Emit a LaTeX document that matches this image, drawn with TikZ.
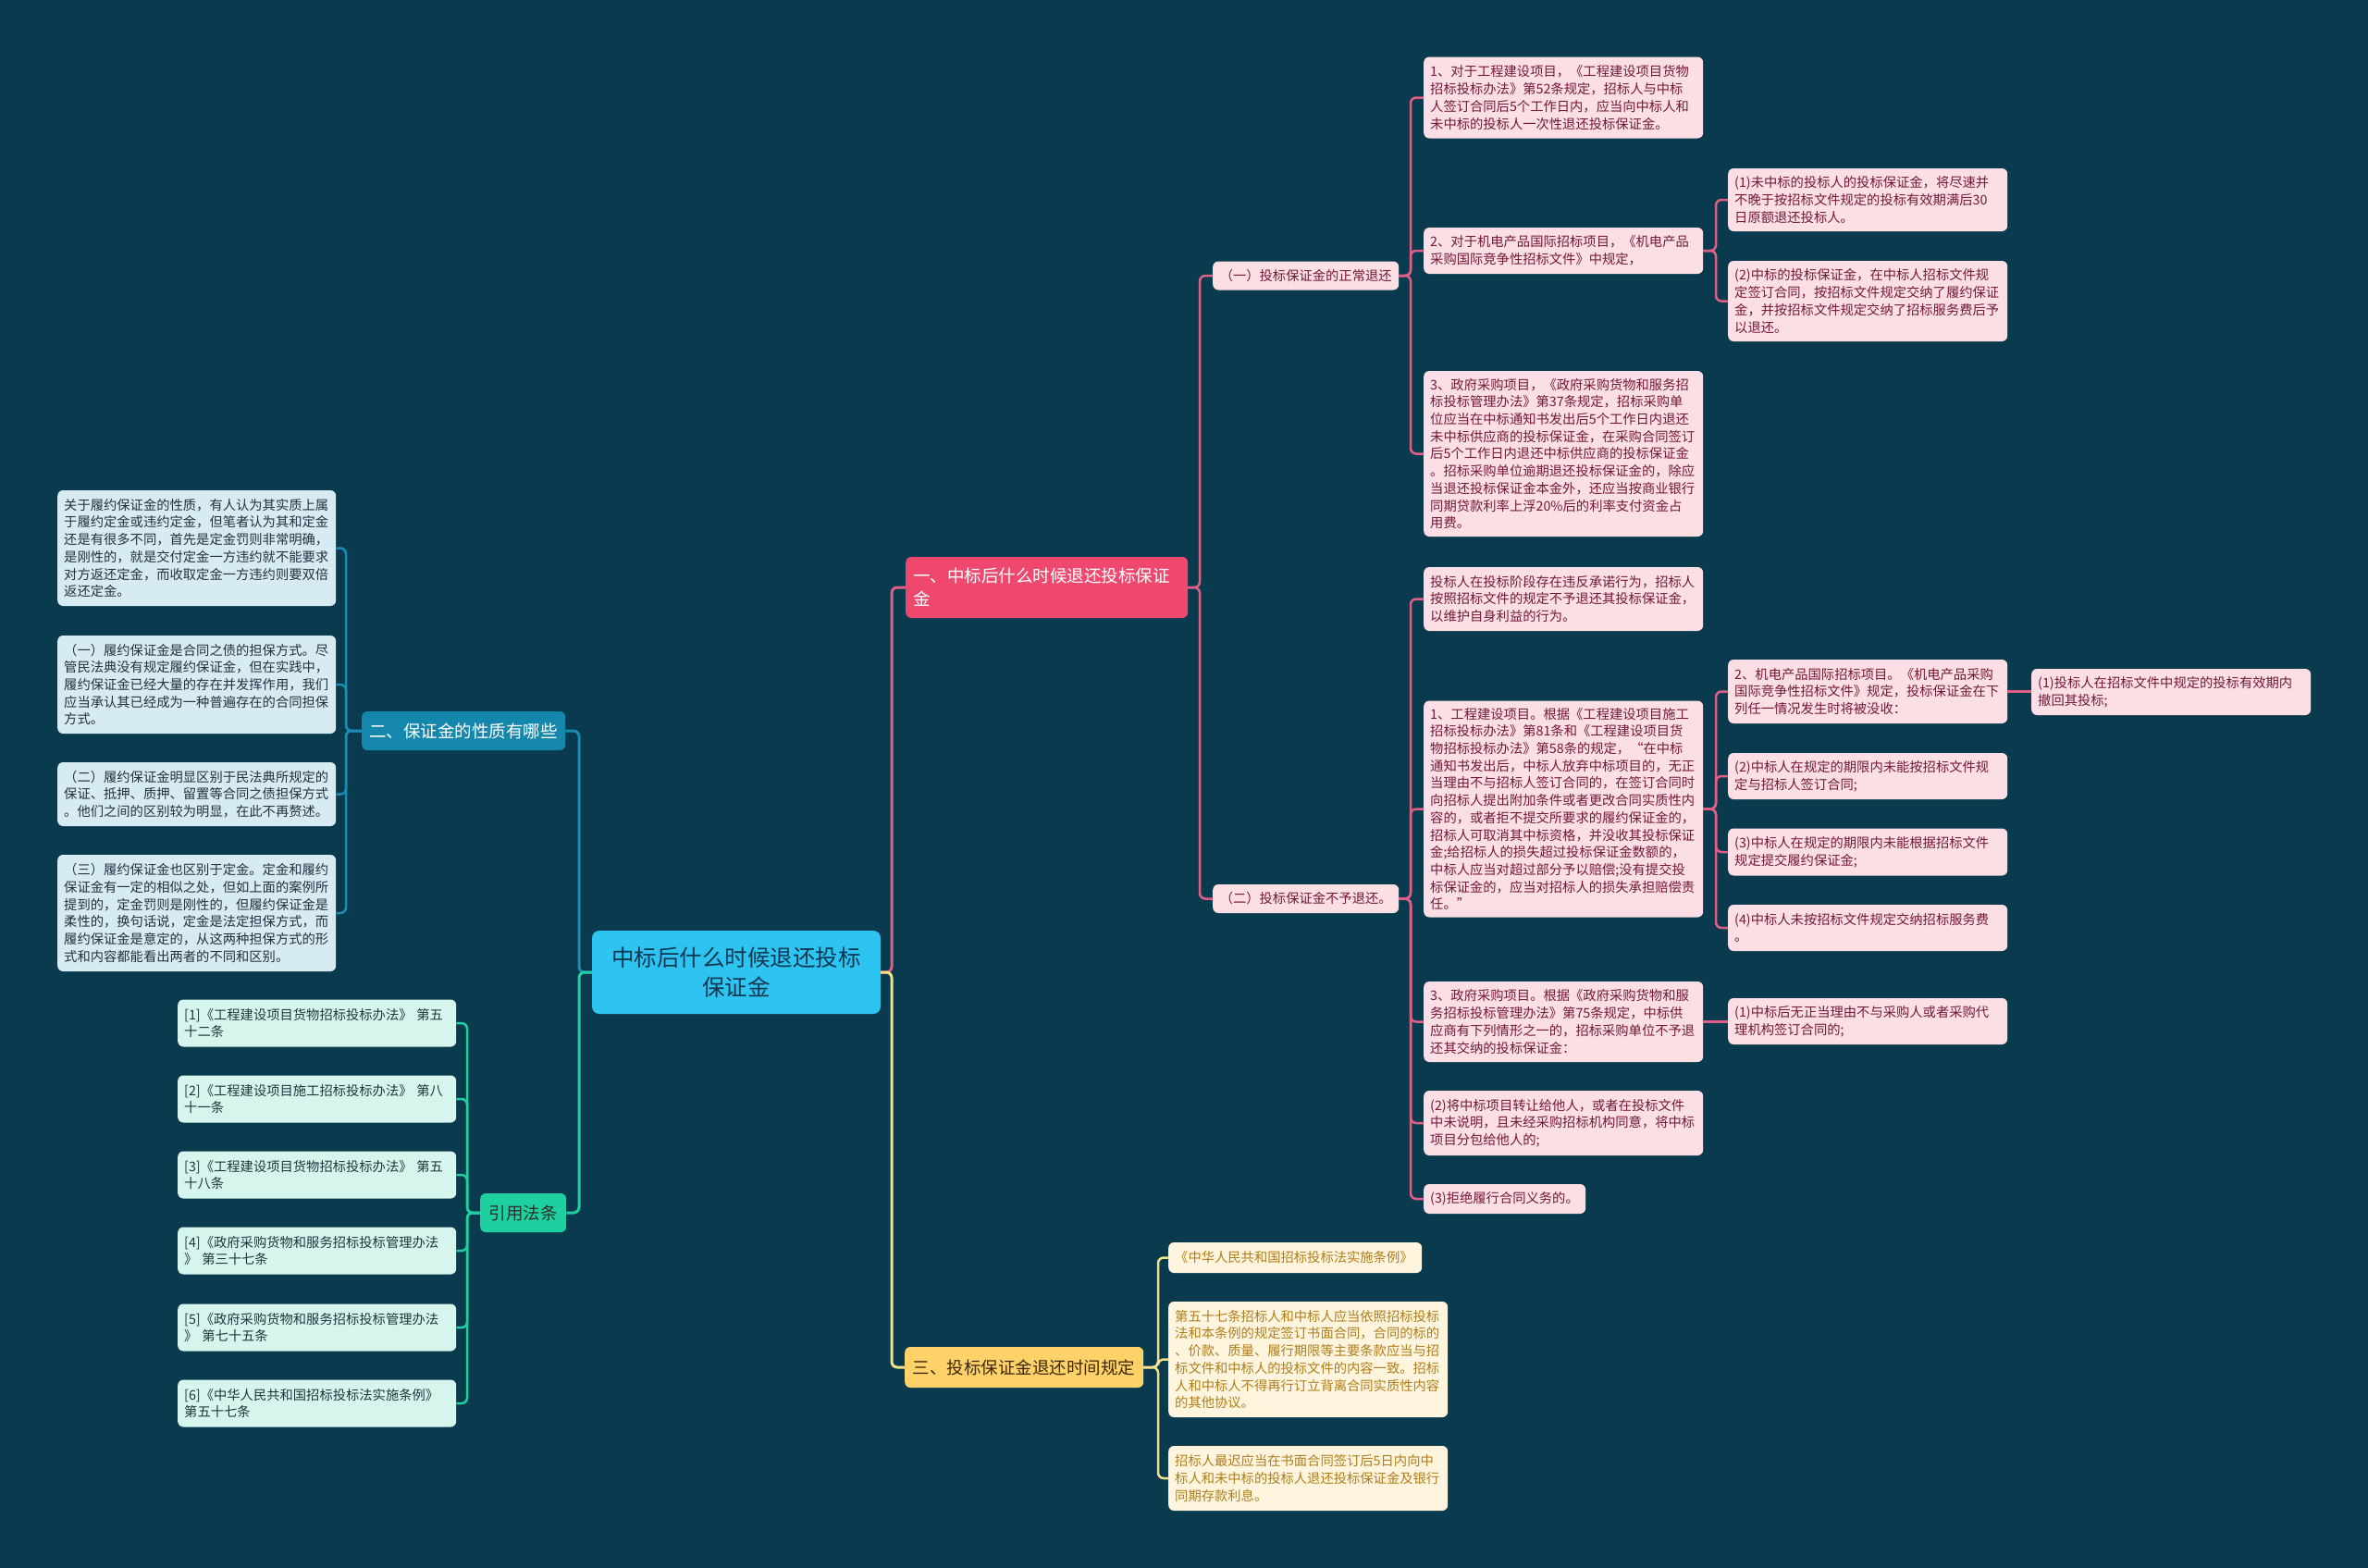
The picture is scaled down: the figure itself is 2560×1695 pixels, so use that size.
\documentclass[tikz,border=0pt]{standalone}
\usepackage{fontspec}
\setmainfont{Noto Sans CJK SC}
\definecolor{bg}{RGB}{10,58,78}
\definecolor{rootfill}{RGB}{45,196,242}
\definecolor{roottext}{RGB}{15,55,80}
\definecolor{pinkbr}{RGB}{239,72,111}
\definecolor{pinkline}{RGB}{225,95,135}
\definecolor{pinkfill}{RGB}{252,222,229}
\definecolor{pinktext}{RGB}{115,25,55}
\definecolor{bluebr}{RGB}{22,135,172}
\definecolor{blueline}{RGB}{25,140,180}
\definecolor{bluefill}{RGB}{214,235,242}
\definecolor{bluetext}{RGB}{35,50,65}
\definecolor{greenbr}{RGB}{30,208,160}
\definecolor{greenfill}{RGB}{214,246,237}
\definecolor{greentext}{RGB}{30,55,60}
\definecolor{yellowbr}{RGB}{255,210,105}
\definecolor{yellowline}{RGB}{245,225,140}
\definecolor{yellowfill}{RGB}{255,245,222}
\definecolor{yellowtext}{RGB}{175,125,25}
\definecolor{darkbrown}{RGB}{60,40,10}
\begin{document}
\begin{tikzpicture}[x=1pt,y=-1pt,
  box/.style={rectangle, rounded corners=6pt, align=left, inner xsep=7pt, inner ysep=4pt, anchor=west, font=\fontsize{14.3}{18.7}\selectfont},
  pbox/.style={box, fill=pinkfill, text=pinktext, text width=288pt},
  lbox/.style={box, fill=bluefill, text=bluetext, text width=287pt},
  rbox/.style={box, fill=greenfill, text=greentext, text width=287pt},
  ybox/.style={box, fill=yellowfill, text=yellowtext, text width=288pt},
  branch/.style={rectangle, rounded corners=6pt, anchor=west, inner xsep=8pt, inner ysep=4pt, font=\fontsize{18.5}{25}\selectfont},
  pconn/.style={draw=pinkline, line width=2.5pt, rounded corners=6pt},
  bconn/.style={draw=blueline, line width=2.5pt, rounded corners=6pt},
  gconn/.style={draw=greenbr, line width=2.5pt, rounded corners=6pt},
  yconn/.style={draw=yellowline, line width=2.5pt, rounded corners=6pt},
]
\fill[bg] (0,0) rectangle (2560,1695);
\useasboundingbox (0,0) rectangle (2560,1695);

% trunk coordinates
\coordinate (tR) at (964,0);
\coordinate (tL) at (626,0);
\coordinate (t1) at (1297,0);
\coordinate (t1a) at (1525,0);
\coordinate (t2) at (1855,0);
\coordinate (tB) at (374,0);
\coordinate (tG) at (505,0);
\coordinate (tY) at (1252,0);

% root
\node[rectangle, rounded corners=8pt, fill=rootfill, text=roottext, align=center, minimum width=312pt, minimum height=90pt, font=\fontsize{24.5}{32}\selectfont] (root) at (796,1051) {中标后什么时候退还投标\\保证金};

% branches
\node[branch, fill=pinkbr, text=white, text width=289pt, align=left, minimum height=66pt] (b1) at (979,635) {一、中标后什么时候退还投标保证\\金};
\node[branch, fill=bluebr, text=white, minimum height=42pt, minimum width=220pt] (b2) at (391,790) {二、保证金的性质有哪些};
\node[branch, fill=greenbr, text=darkbrown!40!bluetext, minimum height=42pt, minimum width=93pt, inner xsep=6pt] (b4) at (519,1311) {引用法条};
\node[branch, fill=yellowbr, text=darkbrown, minimum height=44pt, minimum width=258pt] (b3) at (978,1478) {三、投标保证金退还时间规定};

% level 2 under branch 1
\node[box, fill=pinkfill, text=pinktext, minimum height=31pt, minimum width=201pt] (s1) at (1311,298) {（一）投标保证金的正常退还};
\node[box, fill=pinkfill, text=pinktext, minimum height=31pt, minimum width=201pt] (s2) at (1311,971.5) {（二）投标保证金不予退还。};

% column A
\node[pbox, minimum height=88pt] (a1) at (1539,105.5) {1、对于工程建设项目，《工程建设项目货物\\招标投标办法》第52条规定，招标人与中标\\人签订合同后5个工作日内，应当向中标人和\\未中标的投标人一次性退还投标保证金。};
\node[pbox, minimum height=50pt] (a2) at (1539,271) {2、对于机电产品国际招标项目，《机电产品\\采购国际竞争性招标文件》中规定，};
\node[pbox, minimum height=179pt] (a3) at (1539,490.5) {3、政府采购项目，《政府采购货物和服务招\\标投标管理办法》第37条规定，招标采购单\\位应当在中标通知书发出后5个工作日内退还\\未中标供应商的投标保证金，在采购合同签订\\后5个工作日内退还中标供应商的投标保证金\\。招标采购单位逾期退还投标保证金的，除应\\当退还投标保证金本金外，还应当按商业银行\\同期贷款利率上浮20\%后的利率支付资金占\\用费。};
\node[pbox, minimum height=69pt] (a4) at (1539,647.5) {投标人在投标阶段存在违反承诺行为，招标人\\按照招标文件的规定不予退还其投标保证金，\\以维护自身利益的行为。};
\node[pbox, minimum height=234pt] (a5) at (1539,874.5) {1、工程建设项目。根据《工程建设项目施工\\招标投标办法》第81条和《工程建设项目货\\物招标投标办法》第58条的规定，“在中标\\通知书发出后，中标人放弃中标项目的，无正\\当理由不与招标人签订合同的，在签订合同时\\向招标人提出附加条件或者更改合同实质性内\\容的，或者拒不提交所要求的履约保证金的，\\招标人可取消其中标资格，并没收其投标保证\\金;给招标人的损失超过投标保证金数额的，\\中标人应当对超过部分予以赔偿;没有提交投\\标保证金的，应当对招标人的损失承担赔偿责\\任。”};
\node[pbox, minimum height=87pt] (a6) at (1539,1104.5) {3、政府采购项目。根据《政府采购货物和服\\务招标投标管理办法》第75条规定，中标供\\应商有下列情形之一的，招标采购单位不予退\\还其交纳的投标保证金：};
\node[pbox, minimum height=70pt] (a7) at (1539,1214) {(2)将中标项目转让给他人，或者在投标文件\\中未说明，且未经采购招标机构同意，将中标\\项目分包给他人的;};
\node[pbox, text width=161pt, minimum height=32pt] (a8) at (1539,1296) {(3)拒绝履行合同义务的。};

% column B
\node[pbox, minimum height=68pt] (c1) at (1868,216) {(1)未中标的投标人的投标保证金，将尽速并\\不晚于按招标文件规定的投标有效期满后30\\日原额退还投标人。};
\node[pbox, minimum height=87pt] (c2) at (1868,325.5) {(2)中标的投标保证金，在中标人招标文件规\\定签订合同，按招标文件规定交纳了履约保证\\金，并按招标文件规定交纳了招标服务费后予\\以退还。};
\node[pbox, minimum height=69pt] (c3) at (1868,747.5) {2、机电产品国际招标项目。《机电产品采购\\国际竞争性招标文件》规定，投标保证金在下\\列任一情况发生时将被没收：};
\node[pbox, minimum height=50pt] (c4) at (1868,839) {(2)中标人在规定的期限内未能按招标文件规\\定与招标人签订合同;};
\node[pbox, minimum height=51pt] (c5) at (1868,921) {(3)中标人在规定的期限内未能根据招标文件\\规定提交履约保证金;};
\node[pbox, minimum height=50pt] (c6) at (1868,1003) {(4)中标人未按招标文件规定交纳招标服务费\\。};
\node[pbox, minimum height=50pt] (c7) at (1868,1104) {(1)中标后无正当理由不与采购人或者采购代\\理机构签订合同的;};

% column C
\node[pbox, minimum height=50pt] (d1) at (2196,748) {(1)投标人在招标文件中规定的投标有效期内\\撤回其投标;};

% left blue boxes
\node[lbox, minimum height=125pt] (l1) at (62,592.5) {关于履约保证金的性质，有人认为其实质上属\\于履约定金或违约定金，但笔者认为其和定金\\还是有很多不同，首先是定金罚则非常明确，\\是刚性的，就是交付定金一方违约就不能要求\\对方返还定金，而收取定金一方违约则要双倍\\返还定金。};
\node[lbox, minimum height=106pt] (l2) at (62,740) {（一）履约保证金是合同之债的担保方式。尽\\管民法典没有规定履约保证金，但在实践中，\\履约保证金已经大量的存在并发挥作用，我们\\应当承认其已经成为一种普遍存在的合同担保\\方式。};
\node[lbox, minimum height=69pt] (l3) at (62,858.5) {（二）履约保证金明显区别于民法典所规定的\\保证、抵押、质押、留置等合同之债担保方式\\。他们之间的区别较为明显，在此不再赘述。};
\node[lbox, minimum height=126pt] (l4) at (62,987) {（三）履约保证金也区别于定金。定金和履约\\保证金有一定的相似之处，但如上面的案例所\\提到的，定金罚则是刚性的，但履约保证金是\\柔性的，换句话说，定金是法定担保方式，而\\履约保证金是意定的，从这两种担保方式的形\\式和内容都能看出两者的不同和区别。};

% left green boxes
\node[rbox, minimum height=51pt] (r1) at (192,1106) {[1]《工程建设项目货物招标投标办法》~第五\\十二条};
\node[rbox, minimum height=51pt] (r2) at (192,1188) {[2]《工程建设项目施工招标投标办法》~第八\\十一条};
\node[rbox, minimum height=51pt] (r3) at (192,1270) {[3]《工程建设项目货物招标投标办法》~第五\\十八条};
\node[rbox, minimum height=51pt] (r4) at (192,1352) {[4]《政府采购货物和服务招标投标管理办法\\》~第三十七条};
\node[rbox, minimum height=51pt] (r5) at (192,1435) {[5]《政府采购货物和服务招标投标管理办法\\》~第七十五条};
\node[rbox, minimum height=51pt] (r6) at (192,1517) {[6]《中华人民共和国招标投标法实施条例》\\第五十七条};

% yellow boxes
\node[ybox, text width=260pt, minimum height=33pt] (y1) at (1263,1359.5) {《中华人民共和国招标投标法实施条例》};
\node[ybox, minimum height=125pt] (y2) at (1263,1469.5) {第五十七条招标人和中标人应当依照招标投标\\法和本条例的规定签订书面合同，合同的标的\\、价款、质量、履行期限等主要条款应当与招\\标文件和中标人的投标文件的内容一致。招标\\人和中标人不得再行订立背离合同实质性内容\\的其他协议。};
\node[ybox, minimum height=70pt] (y3) at (1263,1598) {招标人最迟应当在书面合同签订后5日内向中\\标人和未中标的投标人退还投标保证金及银行\\同期存款利息。};

% connectors: root
\draw[pconn, line width=3pt] (root.east) -- (root.east -| tR) |- (b1.west);
\draw[yconn, line width=3pt] (root.east) -- (root.east -| tR) |- (b3.west);
\draw[bconn, line width=3pt] (root.west) -- (root.west -| tL) |- (b2.east);
\draw[gconn, line width=3pt] (root.west) -- (root.west -| tL) |- (b4.east);

% branch 1
\foreach \c in {s1,s2} \draw[pconn] (b1.east) -- (b1.east -| t1) |- (\c.west);
\foreach \c in {a1,a2,a3} \draw[pconn] (s1.east) -- (s1.east -| t1a) |- (\c.west);
\foreach \c in {a4,a5,a6,a7,a8} \draw[pconn] (s2.east) -- (s2.east -| t1a) |- (\c.west);
\foreach \c in {c1,c2} \draw[pconn] (a2.east) -- (a2.east -| t2) |- (\c.west);
\foreach \c in {c3,c4,c5,c6} \draw[pconn] (a5.east) -- (a5.east -| t2) |- (\c.west);
\draw[pconn] (c3.east) -- (c3.east -| d1.west);
\draw[pconn] (a6.east) -- (a6.east -| c7.west);

% branch 2
\foreach \c in {l1,l2,l3,l4} \draw[bconn] (b2.west) -- (b2.west -| tB) |- (\c.east);
% references
\foreach \c in {r1,r2,r3,r4,r5,r6} \draw[gconn] (b4.west) -- (b4.west -| tG) |- (\c.east);
% branch 3
\foreach \c in {y1,y2,y3} \draw[yconn] (b3.east) -- (b3.east -| tY) |- (\c.west);
\end{tikzpicture}
\end{document}
